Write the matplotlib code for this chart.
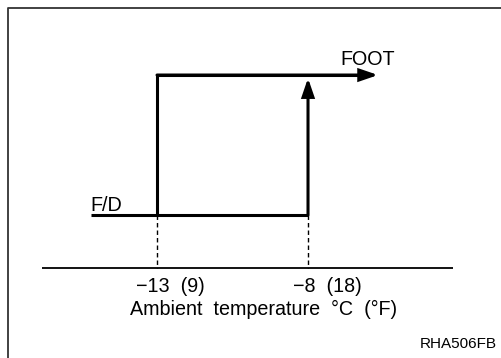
import matplotlib
matplotlib.use("Agg")
import matplotlib.pyplot as plt
from matplotlib.patches import FancyArrowPatch
from matplotlib.lines import Line2D

plt.rcParams['font.family'] = ['Liberation Sans', 'DejaVu Sans']

# Mode switching thresholds (ambient temperature, deg C)
thresholds_c = [-13, -8]
threshold_labels = ["\u221213  (9)", "\u22128  (18)"]
modes = ["F/D", "FOOT"]          # level 0, level 1
mode_levels = [0, 1]
axis_title = "Ambient  temperature  \u00b0C  (\u00b0F)"
figure_code = "RHA506FB"

# Extent of the drawn lines along the temperature axis
axis_range = [-16.8, -3.2]
fd_start = -15.2
foot_end = -5.68
axis_level = -0.38

W, H = 502, 358
fig = plt.figure(figsize=(W / 100, H / 100), dpi=100)
ax = fig.add_axes([0, 0, 1, 1])
ax.set_xlim(-18.2, -1.576)
ax.set_ylim(-1.021, 1.536)
ax.axis('off')

black = '#000000'
lw_main = 2.2

# Baseline temperature axis
ax.plot(axis_range, [axis_level, axis_level], color=black, lw=1.3, solid_capstyle='butt')

# Dashed guides from the switch points down to the axis
for t in thresholds_c:
    ax.plot([t, t], [mode_levels[0], axis_level], color=black, lw=1.0,
            linestyle=(0, (3.2, 2.2)))

lo, hi = thresholds_c
fd, foot = mode_levels

# F/D along the bottom, switching up to FOOT at the low threshold
ax.plot([fd_start, hi], [fd, fd], color=black, lw=lw_main, solid_capstyle='butt')
ax.plot([lo, lo, foot_end - 0.3], [fd, foot, foot], color=black, lw=lw_main,
        solid_joinstyle='miter', solid_capstyle='butt')

# Arrowheads
head = '-|>,head_length=10.5,head_width=3.6'
ax.add_patch(FancyArrowPatch((lo, foot), (foot_end, foot), arrowstyle=head,
                             mutation_scale=1, lw=lw_main, color=black,
                             shrinkA=0, shrinkB=0, joinstyle='miter'))
ax.add_patch(FancyArrowPatch((hi, fd), (hi, foot - 0.022), arrowstyle=head,
                             mutation_scale=1, lw=lw_main, color=black,
                             shrinkA=0, shrinkB=0, joinstyle='miter'))

# Mode labels
fs = 14.2
ax.text(-6.94, 1.071, modes[1], fontsize=fs, ha='left', va='baseline')
ax.text(fd_start, 0.03, modes[0], fontsize=fs, ha='left', va='baseline')

# Threshold labels under the axis
tx = ax.get_xaxis_transform()
offsets = [-21 / 30.2, -15 / 30.2]
for t, lab, off in zip(thresholds_c, threshold_labels, offsets):
    ax.text(t + off, 1 - 292 / H, lab, transform=tx, fontsize=fs,
            ha='left', va='baseline')

ax.text(263.5 / W, 1 - 315 / H, axis_title, transform=ax.transAxes,
        fontsize=fs, ha='center', va='baseline')
ax.text(497 / W, 1 - 348 / H, figure_code, transform=ax.transAxes,
        fontsize=11, ha='right', va='baseline')

# Outer frame (left and top edges)
fig.add_artist(Line2D([8 / W, 8 / W, 1], [0, 1 - 8 / H, 1 - 8 / H],
                      transform=fig.transFigure, color='#333333', lw=1.3))

fig.savefig('out.png', dpi=100)
